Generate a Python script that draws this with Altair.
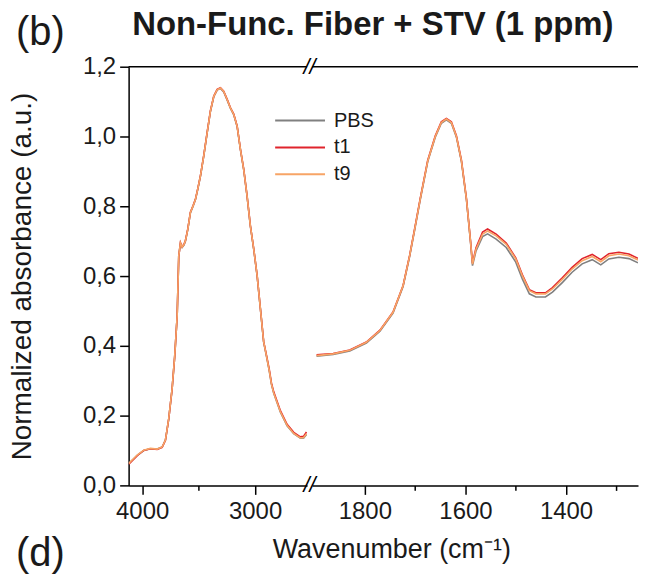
import altair as alt
import pandas as pd

FONT = "Liberation Sans"

series = ["PBS", "t1", "t9"]
colors = ["#808080", "#e0242c", "#f7a466"]

# ---- left segment (4000-2500 cm-1) ----
wn_left = [4119, 4044, 3986, 3927, 3867, 3823, 3794, 3765, 3735, 3712, 3690, 3676,
           3661, 3646, 3630, 3617, 3596, 3573, 3549, 3528, 3508, 3484, 3455, 3425,
           3396, 3366, 3336, 3307, 3278, 3248, 3219, 3189, 3159, 3130, 3101, 3071,
           3042, 3012, 2982, 2953, 2924, 2900, 2875, 2855, 2835, 2776, 2717, 2658,
           2599, 2570, 2545]
t9_left = [0.063, 0.087, 0.101, 0.106, 0.104, 0.110, 0.130, 0.191, 0.277, 0.370, 0.487, 0.658,
           0.695, 0.683, 0.690, 0.701, 0.734, 0.782, 0.801, 0.820, 0.849, 0.887, 0.944, 1.010,
           1.072, 1.115, 1.134, 1.139, 1.129, 1.106, 1.082, 1.063, 1.029, 0.963, 0.906, 0.829,
           0.744, 0.677, 0.601, 0.506, 0.411, 0.372, 0.330, 0.290, 0.265, 0.211, 0.172, 0.149,
           0.136, 0.137, 0.148]
t1_left = [0.061, 0.085, 0.100, 0.105, 0.103, 0.109, 0.129, 0.190, 0.276, 0.369, 0.486, 0.657,
           0.696, 0.684, 0.691, 0.702, 0.735, 0.783, 0.802, 0.821, 0.850, 0.888, 0.945, 1.011,
           1.073, 1.116, 1.135, 1.140, 1.130, 1.107, 1.083, 1.064, 1.030, 0.964, 0.907, 0.830,
           0.745, 0.678, 0.602, 0.507, 0.412, 0.374, 0.333, 0.293, 0.268, 0.214, 0.175, 0.152,
           0.139, 0.141, 0.153]
pbs_left = [0.062, 0.086, 0.100, 0.105, 0.104, 0.110, 0.130, 0.190, 0.276, 0.369, 0.486, 0.657,
            0.694, 0.682, 0.689, 0.700, 0.733, 0.781, 0.800, 0.819, 0.848, 0.886, 0.943, 1.009,
            1.071, 1.114, 1.133, 1.138, 1.128, 1.105, 1.081, 1.062, 1.028, 0.962, 0.905, 0.828,
            0.743, 0.676, 0.600, 0.505, 0.410, 0.371, 0.329, 0.289, 0.264, 0.210, 0.171, 0.148,
            0.135, 0.136, 0.146]

# ---- right segment (1900-1250 cm-1) ----
wn_right = [1896, 1863, 1830, 1797, 1770, 1744, 1724, 1711, 1701, 1690, 1675, 1660,
            1648, 1638, 1628, 1618, 1608, 1598, 1590, 1586, 1579, 1566, 1556, 1539,
            1519, 1500, 1487, 1473, 1460, 1441, 1427, 1407, 1388, 1368, 1348, 1331,
            1315, 1295, 1275, 1257]
t9_right = [0.372, 0.377, 0.387, 0.410, 0.444, 0.496, 0.572, 0.658, 0.734, 0.820, 0.930, 1.000,
            1.040, 1.050, 1.040, 1.000, 0.930, 0.820, 0.700, 0.634, 0.677, 0.720, 0.729, 0.715,
            0.691, 0.649, 0.601, 0.558, 0.549, 0.549, 0.563, 0.591, 0.620, 0.644, 0.656, 0.641,
            0.658, 0.663, 0.658, 0.646]
t1_right = [0.374, 0.378, 0.388, 0.411, 0.445, 0.497, 0.573, 0.659, 0.736, 0.822, 0.932, 1.002,
            1.042, 1.052, 1.042, 1.002, 0.932, 0.822, 0.702, 0.637, 0.681, 0.726, 0.735, 0.720,
            0.695, 0.652, 0.604, 0.561, 0.552, 0.552, 0.567, 0.596, 0.625, 0.650, 0.662, 0.647,
            0.664, 0.668, 0.663, 0.651]
pbs_right = [0.370, 0.375, 0.385, 0.408, 0.442, 0.494, 0.570, 0.656, 0.732, 0.818, 0.928, 0.998,
             1.038, 1.048, 1.038, 0.998, 0.928, 0.818, 0.698, 0.630, 0.672, 0.713, 0.721, 0.706,
             0.682, 0.640, 0.592, 0.549, 0.540, 0.540, 0.554, 0.582, 0.611, 0.635, 0.647, 0.632,
             0.649, 0.654, 0.650, 0.638]

x_ticks_left = [4000, 3500, 3000]
x_ticks_right = [1800, 1700, 1600, 1500, 1400, 1300]
y_ticks = [0.0, 0.1, 0.2, 0.3, 0.4, 0.5, 0.6, 0.7, 0.8, 0.9, 1.0, 1.1, 1.2]


def long_frame(wn, vals):
    rows = []
    for name, v in zip(series, vals):
        for w, y in zip(wn, v):
            rows.append({"wn": w, "val": y, "series": name})
    return pd.DataFrame(rows)


df_left = long_frame(wn_left, [pbs_left, t1_left, t9_left])
df_right = long_frame(wn_right, [pbs_right, t1_right, t9_right])
one = pd.DataFrame({"k": [0]})

W_LEFT, W_RIGHT, H = 179, 327, 420

yscale = alt.Scale(domain=[0, 1.2], nice=False, zero=False)
color_scale = alt.Scale(domain=series, range=colors)

y_axis = alt.Axis(
    values=y_ticks,
    labelExpr="(round(datum.value*10) % 2 == 0) ? replace(format(datum.value, '.1f'), '.', ',') : ''",
    tickSize={"condition": {"test": "round(datum.value*10) % 2 == 0", "value": 9}, "value": 5},
    title="Normalized absorbance (a.u.)",
    titleFontSize=28, titleFontWeight="normal", titleFont=FONT, titleColor="#1a1a1a",
    titlePadding=46, labelPadding=4,
)
x_axis_left = alt.Axis(
    values=x_ticks_left,
    labelExpr="datum.value % 1000 == 0 ? format(datum.value, 'd') : ''",
    tickSize={"condition": {"test": "datum.value % 1000 == 0", "value": 9}, "value": 5},
    title=None, labelPadding=5,
)
x_axis_right = alt.Axis(
    values=x_ticks_right,
    labelExpr="datum.value % 200 == 0 ? format(datum.value, 'd') : ''",
    tickSize={"condition": {"test": "datum.value % 200 == 0", "value": 9}, "value": 5},
    title=None, labelPadding=5,
)

legend = alt.Legend(
    title=None, orient="none", legendX=162, legendY=44,
    symbolType="M-5,0H5", symbolSize=100, symbolStrokeWidth=2,
    labelOffset=24,
    labelFontSize=20, labelFont=FONT, labelColor="#1a1a1a", rowPadding=7, padding=0,
)

left_lines = alt.Chart(df_left).mark_line(strokeWidth=1.6, clip=True).encode(
    x=alt.X("wn:Q", scale=alt.Scale(domain=[2540, 4120], reverse=True, nice=False, zero=False), axis=x_axis_left),
    y=alt.Y("val:Q", scale=yscale, axis=y_axis),
    color=alt.Color("series:N", scale=color_scale, legend=legend),
)
right_lines = alt.Chart(df_right).mark_line(strokeWidth=1.6, clip=True).encode(
    x=alt.X("wn:Q", scale=alt.Scale(domain=[1257, 1905], reverse=True, nice=False, zero=False), axis=x_axis_right),
    y=alt.Y("val:Q", scale=yscale, axis=None),
    color=alt.Color("series:N", scale=color_scale, legend=None),
)

top_rule = alt.Chart(one).mark_rule(color="black", strokeWidth=1.5).encode(y=alt.datum(1.2))


def label(text, x, y, size, weight="normal", align="left"):
    return alt.Chart(one).mark_text(
        text=text, fontSize=size, fontWeight=weight, align=align, baseline="alphabetic",
        font=FONT, color="#1a1a1a",
    ).encode(x=alt.value(x), y=alt.value(y))


def brk(y):
    return alt.Chart(one).mark_text(
        text="//", fontSize=22, fontStyle="italic", align="center", baseline="middle",
        font=FONT, color="black",
    ).encode(x=alt.value(W_LEFT + 2.5), y=alt.value(y))


left = alt.layer(
    left_lines,
    top_rule,
    label("(b)", -113, -22, 40),
    label("Non-Func. Fiber + STV (1 ppm)", 245, -32, 33, weight="bold", align="center"),
    label("Wavenumber (cm⁻¹)", 264, 493, 27, align="center"),
    label("(d)", -113, 501, 40),
    brk(0),
    brk(H),
).properties(width=W_LEFT, height=H)

right = alt.layer(right_lines, top_rule).properties(width=W_RIGHT, height=H)

chart = (
    alt.hconcat(left, right, spacing=5, bounds="flush")
    .resolve_scale(color="independent", x="independent")
    .properties(padding={"left": 0, "top": 0, "right": 0, "bottom": 0})
    .configure(font=FONT)
    .configure_view(stroke=None)
    .configure_axis(
        domainColor="black", domainWidth=1.5, tickColor="black", tickWidth=1.5,
        labelFontSize=24, labelFont=FONT, labelColor="#1a1a1a", grid=False,
    )
)

chart.save("out.html", embed_options={"renderer": "svg", "actions": False})
